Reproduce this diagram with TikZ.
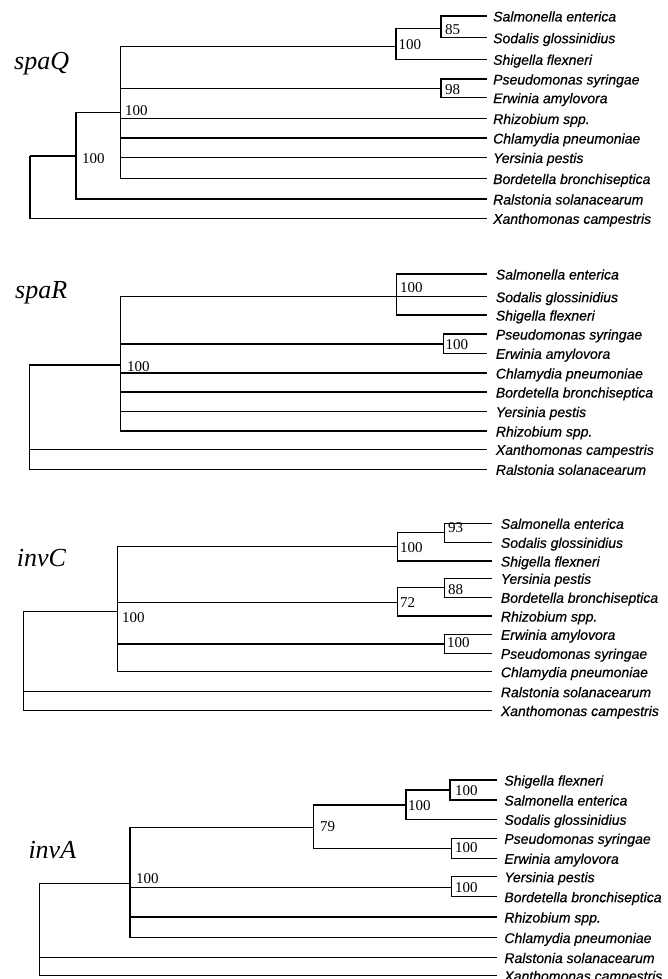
\documentclass[tikz,border=0pt]{standalone}
\usepackage{fontspec}
\setmainfont{Liberation Serif}
\newfontfamily\taxonfont[FakeBold=0.5]{Liberation Sans}
\begin{document}
\begin{tikzpicture}[x=1pt,y=-1pt,
  branch/.style={line width=1.5pt},
  leaf/.style={anchor=west, inner ysep=0pt, inner xsep=6pt,
    text height=13pt, text depth=2pt,
    font=\taxonfont\itshape\fontsize{14}{14}\selectfont},
  boot/.style={anchor=west, inner sep=0pt, font=\fontsize{15}{15}\selectfont},
  gene/.style={anchor=base west, inner sep=0pt, font=\itshape\fontsize{26}{26}\selectfont}]
\useasboundingbox (0,0) rectangle (668,979);

% ---------------- spaQ ----------------
\node[gene] (gQ) at (14,69.5) {spaQ};
\begin{scope}[leaf/.append style={inner xsep=6pt}]
\node[leaf] (q1)  at (487,16)    {Salmonella enterica};
\node[leaf] (q2)  at (487,37.7)  {Sodalis glossinidius};
\node[leaf] (q3)  at (487,59.3)  {Shigella flexneri};
\node[leaf] (q4)  at (487,79)    {Pseudomonas syringae};
\node[leaf] (q5)  at (487,97.7)  {Erwinia amylovora};
\node[leaf] (q6)  at (487,118.5) {Rhizobium spp.};
\node[leaf] (q7)  at (487,138)   {Chlamydia pneumoniae};
\node[leaf] (q8)  at (487,157.5) {Yersinia pestis};
\node[leaf] (q9)  at (487,178.5) {Bordetella bronchiseptica};
\node[leaf] (q10) at (487,199)   {Ralstonia solanacearum};
\node[leaf] (q11) at (487,218.3) {Xanthomonas campestris};
\end{scope}
\coordinate (qA) at (441,28.5);
\coordinate (qB) at (396,46.7);
\coordinate (qC) at (441,88.3);
\coordinate (qD) at (120.7,112.7);
\coordinate (qE) at (76,156);
\coordinate (qR) at (30,156);
\draw[branch] (qA) |- (q1.west) (qA) |- (q2.west);
\draw[branch] (qB) |- (qA) (qB) |- (q3.west);
\draw[branch] (qC) |- (q4.west) (qC) |- (q5.west);
\draw[branch] (qD) |- (qB) (qD) |- (qC) (qD) |- (q6.west) (qD) |- (q7.west)
              (qD) |- (q8.west) (qD) |- (q9.west);
\draw[branch] (qE) |- (qD) (qE) |- (q10.west);
\draw[branch] (qR) |- (qE) (qR) |- (q11.west);
\node[boot] (qbA) at (445,30)    {85};
\node[boot] (qbB) at (398.5,45)  {100};
\node[boot] (qbC) at (445,90)    {98};
\node[boot] (qbD) at (125,110.7) {100};
\node[boot] (qbE) at (82,158.5)  {100};

% ---------------- spaR ----------------
\node[gene] (gR) at (15,298.3) {spaR};
\begin{scope}[leaf/.append style={inner xsep=9pt}]
\node[leaf] (r1)  at (486.7,274)   {Salmonella enterica};
\node[leaf] (r2)  at (486.7,296.7) {Sodalis glossinidius};
\node[leaf] (r3)  at (486.7,315)   {Shigella flexneri};
\node[leaf] (r4)  at (486.7,334)   {Pseudomonas syringae};
\node[leaf] (r5)  at (486.7,353.3) {Erwinia amylovora};
\node[leaf] (r6)  at (486.7,373)   {Chlamydia pneumoniae};
\node[leaf] (r7)  at (486.7,392)   {Bordetella bronchiseptica};
\node[leaf] (r8)  at (486.7,411.5) {Yersinia pestis};
\node[leaf] (r9)  at (486.7,431)   {Rhizobium spp.};
\node[leaf] (r10) at (486.7,449.3) {Xanthomonas campestris};
\node[leaf] (r11) at (486.7,469.3) {Ralstonia solanacearum};
\end{scope}
\coordinate (rP) at (396.7,296.7);
\coordinate (rC) at (443.3,344);
\coordinate (rQ) at (120.7,365);
\coordinate (rR) at (29.3,365);
\draw[branch] (rP) |- (r1.west) (rP) |- (r2.west) (rP) |- (r3.west);
\draw[branch] (rC) |- (r4.west) (rC) |- (r5.west);
\draw[branch] (rQ) |- (rP) (rQ) |- (rC) (rQ) |- (r6.west) (rQ) |- (r7.west)
              (rQ) |- (r8.west) (rQ) |- (r9.west);
\draw[branch] (rR) |- (rQ) (rR) |- (r10.west) (rR) |- (r11.west);
\node[boot] (rbP) at (400,288)   {100};
\node[boot] (rbC) at (445.5,344.3) {100};
\node[boot] (rbQ) at (127,366.5) {100};

% ---------------- invC ----------------
\node[gene] (gC) at (16.7,566.7) {invC};
\begin{scope}[leaf/.append style={inner xsep=9pt}]
\node[leaf] (c1)  at (491.7,523.3) {Salmonella enterica};
\node[leaf] (c2)  at (491.7,542.3) {Sodalis glossinidius};
\node[leaf] (c3)  at (491.7,561)   {Shigella flexneri};
\node[leaf] (c4)  at (491.7,578.3) {Yersinia pestis};
\node[leaf] (c5)  at (491.7,597.3) {Bordetella bronchiseptica};
\node[leaf] (c6)  at (491.7,616)   {Rhizobium spp.};
\node[leaf] (c7)  at (491.7,634.3) {Erwinia amylovora};
\node[leaf] (c8)  at (491.7,653.3) {Pseudomonas syringae};
\node[leaf] (c9)  at (491.7,671.7) {Chlamydia pneumoniae};
\node[leaf] (c10) at (491.7,691.7) {Ralstonia solanacearum};
\node[leaf] (c11) at (491.7,710.5) {Xanthomonas campestris};
\end{scope}
\coordinate (cA) at (444.3,532.7);
\coordinate (cB) at (397.7,546.7);
\coordinate (cC) at (444.3,587.7);
\coordinate (cD) at (397.7,602.7);
\coordinate (cE) at (444.3,644);
\coordinate (cF) at (117.3,611.7);
\coordinate (cR) at (23.3,611.7);
\draw[branch] (cA) |- (c1.west) (cA) |- (c2.west);
\draw[branch] (cB) |- (cA) (cB) |- (c3.west);
\draw[branch] (cC) |- (c4.west) (cC) |- (c5.west);
\draw[branch] (cD) |- (cC) (cD) |- (c6.west);
\draw[branch] (cE) |- (c7.west) (cE) |- (c8.west);
\draw[branch] (cF) |- (cB) (cF) |- (cD) (cF) |- (cE) (cF) |- (c9.west);
\draw[branch] (cR) |- (cF) (cR) |- (c10.west) (cR) |- (c11.west);
\node[boot] (cbA) at (448,528)   {93};
\node[boot] (cbB) at (400,548)   {100};
\node[boot] (cbC) at (448,590)   {88};
\node[boot] (cbD) at (400,603)   {72};
\node[boot] (cbE) at (447,643)   {100};
\node[boot] (cbF) at (122,618)   {100};

% ---------------- invA ----------------
\node[gene] (gA) at (28.3,858.3) {invA};
\begin{scope}[leaf/.append style={inner xsep=7.5pt}]
\node[leaf] (a1)  at (496.7,780)   {Shigella flexneri};
\node[leaf] (a2)  at (496.7,800)   {Salmonella enterica};
\node[leaf] (a3)  at (496.7,819.3) {Sodalis glossinidius};
\node[leaf] (a4)  at (496.7,838.3) {Pseudomonas syringae};
\node[leaf] (a5)  at (496.7,858.3) {Erwinia amylovora};
\node[leaf] (a6)  at (496.7,876.7) {Yersinia pestis};
\node[leaf] (a7)  at (496.7,896.7) {Bordetella bronchiseptica};
\node[leaf] (a8)  at (496.7,917)   {Rhizobium spp.};
\node[leaf] (a9)  at (496.7,937.5) {Chlamydia pneumoniae};
\node[leaf] (a10) at (496.7,957.5) {Ralstonia solanacearum};
\node[leaf] (a11) at (496.7,975.5) {Xanthomonas campestris};
\end{scope}
\coordinate (aA) at (450,790);
\coordinate (aB) at (406,805);
\coordinate (aC) at (451.7,848.3);
\coordinate (aG) at (313.3,827.7);
\coordinate (aD) at (451.7,887.5);
\coordinate (aF) at (130,883.3);
\coordinate (aR) at (39.3,883.3);
\draw[branch] (aA) |- (a1.west) (aA) |- (a2.west);
\draw[branch] (aB) |- (aA) (aB) |- (a3.west);
\draw[branch] (aC) |- (a4.west) (aC) |- (a5.west);
\draw[branch] (aG) |- (aB) (aG) |- (aC);
\draw[branch] (aD) |- (a6.west) (aD) |- (a7.west);
\draw[branch] (aF) |- (aG) (aF) |- (aD) (aF) |- (a8.west) (aF) |- (a9.west);
\draw[branch] (aR) |- (aF) (aR) |- (a10.west) (aR) |- (a11.west);
\node[boot] (abA) at (455,790.5) {100};
\node[boot] (abB) at (408,806)   {100};
\node[boot] (abC) at (455,848)   {100};
\node[boot] (abG) at (320,826.7) {79};
\node[boot] (abD) at (455,888)   {100};
\node[boot] (abF) at (136,878.7) {100};
\end{tikzpicture}
\end{document}
